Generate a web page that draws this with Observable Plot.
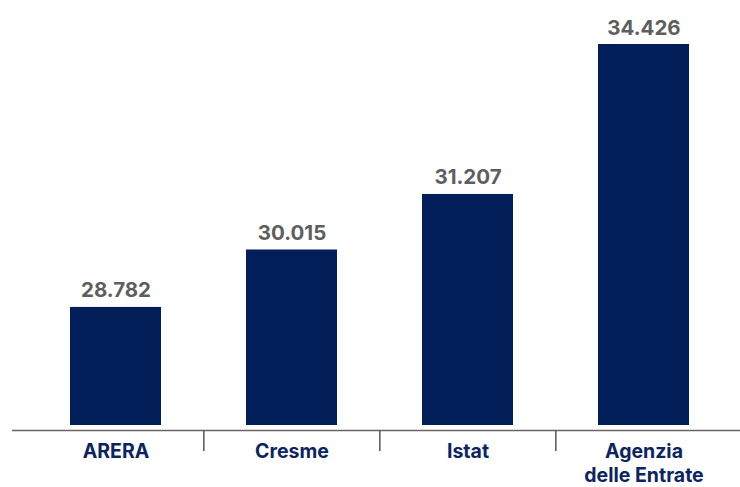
<!DOCTYPE html>
<html>
<head>
<meta charset="utf-8">
<script src="https://cdn.jsdelivr.net/npm/d3@7"></script>
<script src="https://cdn.jsdelivr.net/npm/@observablehq/plot@0.6"></script>
<style>
  html, body { margin: 0; padding: 0; background: #fff; }
  #chart { width: 740px; height: 487px; }
  svg { display: block; }
</style>
</head>
<body>
<div id="chart"></div>
<script>
const categories = ["ARERA", "Cresme", "Istat", "Agenzia delle Entrate"];
const tickLabels = ["ARERA", "Cresme", "Istat", "Agenzia\ndelle Entrate"];
const values = [28782, 30015, 31207, 34426];

const data = categories.map((c, i) => ({category: c, value: values[i], label: tickLabels[i]}));
const labelOf = new Map(data.map(d => [d.category, d.label]));

const itFormat = d3.formatLocale({decimal: ",", thousands: ".", grouping: [3], currency: ["", "€"]}).format(",d");

const yMin = 26140;
const width = 740, height = 487;
const marginLeft = 12, marginRight = 0;
const xRange = [13, 745];
const paddingInner = 0.4837, paddingOuter = 0.3177;
const step = (xRange[1] - xRange[0]) / (categories.length - paddingInner + 2 * paddingOuter);

const navy = "#021f5a";
const labelNavy = "#0c2461";
const grey = "#5e5e5e";

const chart = Plot.plot({
  width, height,
  marginLeft, marginRight,
  marginTop: 44,
  marginBottom: 57,
  style: {fontFamily: "Inter, 'Open Sans', sans-serif", background: "#fff"},
  x: {domain: categories, range: xRange, paddingInner, paddingOuter, axis: null},
  y: {domain: [yMin, 34426], axis: null},
  marks: [
    Plot.barY(data, {x: "category", y1: yMin, y2: "value", fill: navy, insetBottom: 5}),
    Plot.text(data, {
      x: "category", y: "value", text: d => itFormat(d.value),
      lineAnchor: "bottom", dy: -10, fill: grey, fontSize: 20.5, fontWeight: 700
    }),
    Plot.ruleY([yMin], {stroke: "#666", strokeWidth: 1.6}),
    Plot.axisX({
      ticks: categories.slice(1), tickSize: 21, dx: -step / 2, text: null, label: null,
      stroke: "#555", strokeWidth: 1.5, strokeOpacity: 1
    }),
    Plot.axisX({
      tickSize: 0, tickPadding: 11, tickFormat: d => labelOf.get(d), label: null,
      fontSize: 19.5, fontWeight: 700, fill: labelNavy, lineHeight: 1.22, textStroke: "none"
    })
  ]
});
document.getElementById("chart").appendChild(chart);
</script>
</body>
</html>
